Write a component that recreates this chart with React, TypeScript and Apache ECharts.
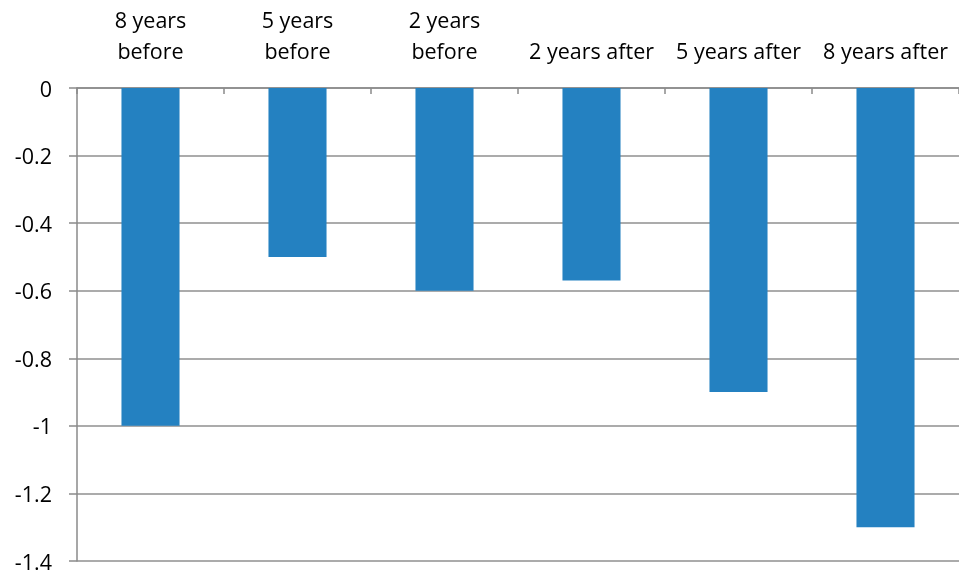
import React, { useEffect, useRef } from "react";
import * as echarts from "echarts";

const categories = ["8 years before", "5 years before", "2 years before", "2 years after", "5 years after", "8 years after"];
const values = [-1.0, -0.5, -0.6, -0.57, -0.9, -1.3];
const yMin = -1.4;
const yMax = 0;
const yStep = 0.2;

export default function App() {
  const ref = useRef<HTMLDivElement>(null);
  useEffect(() => {
    if (!ref.current) return;
    const chart = echarts.init(ref.current, undefined, { renderer: "svg" });
    const font = "'Open Sans', 'Noto Sans', sans-serif";
    chart.setOption({
      animation: false,
      grid: { left: 77, right: -2, top: 88, bottom: 13, containLabel: false },
      xAxis: {
        type: "category",
        position: "top",
        data: categories,
        axisLine: { show: true, lineStyle: { color: "#8a8a8a", width: 1.5 } },
        axisTick: { show: true, inside: true, length: 6, lineStyle: { color: "#8a8a8a", width: 1.5 } },
        axisLabel: {
          color: "#000",
          fontSize: 21.5,
          fontFamily: font,
          margin: 22,
          lineHeight: 31,
          interval: 0,
          formatter: (v: string) => v.replace(" before", "\nbefore"),
        },
      },
      yAxis: {
        type: "value",
        min: yMin,
        max: yMax,
        interval: yStep,
        axisLine: { show: true, lineStyle: { color: "#8a8a8a", width: 1.5 } },
        axisTick: { show: true, length: 8, lineStyle: { color: "#8a8a8a", width: 1.5 } },
        splitLine: { show: true, lineStyle: { color: "#8f8f8f", width: 1.5 } },
        axisLabel: {
          color: "#000",
          fontSize: 21.5,
          fontFamily: font,
          margin: 25,
          formatter: (v: number) => String(Math.round(v * 10) / 10),
        },
      },
      series: [
        {
          type: "bar",
          data: values,
          barWidth: "39.5%",
          itemStyle: { color: "#2481c1" },
        },
      ],
    });
    return () => chart.dispose();
  }, []);
  return <div ref={ref} style={{ position: "fixed", left: 0, top: 0, width: 959, height: 574 }} />;
}
